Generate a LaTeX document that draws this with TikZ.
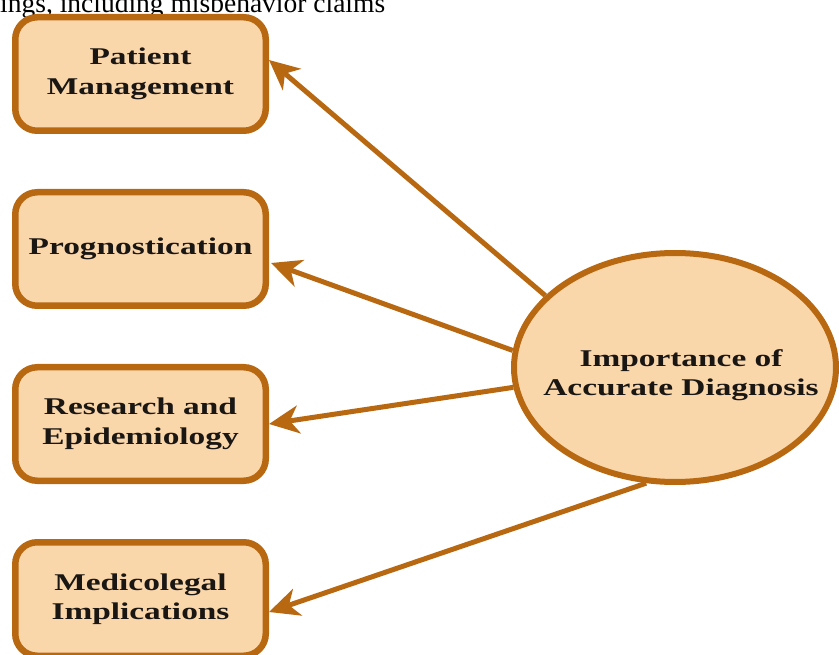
\documentclass[tikz,border=0pt]{standalone}
\usepackage{fontspec}
\setmainfont{Liberation Serif}
\newfontfamily\labelfont[FakeStretch=1.39]{Liberation Serif}
\usetikzlibrary{arrows.meta,shapes.geometric}
\definecolor{peach}{RGB}{250,215,170}
\definecolor{rust}{RGB}{185,104,18}
\definecolor{ink}{RGB}{25,22,20}
% centred two-line label that does not widen the ellipse around it,
% set a little right of and below the ellipse centre
\newcommand{\hubtext}[2]{\makebox[0pt]{\hspace*{12pt}\raisebox{-7.7pt}[\height][\depth]{\begin{tabular}{@{}c@{}}#1\\#2\end{tabular}}}}
\begin{document}
\begin{tikzpicture}[x=1pt,y=-1pt,
  topic/.style={draw=rust, fill=peach, line width=6.5pt, rounded corners=22pt,
    minimum width=250.5pt, minimum height=113.5pt, inner sep=0pt, align=center,
    text=ink, font=\labelfont\bfseries\fontsize{24}{29.5}\selectfont},
  hub/.style={ellipse, draw=rust, fill=peach, line width=6pt,
    minimum width=322pt, minimum height=229pt, inner sep=0pt,
    text=ink, font=\labelfont\bfseries\fontsize{24}{28.5}\selectfont},
  link/.style={draw=rust, line width=5pt,
    -{Stealth[length=30pt,width=28pt,inset=9pt]}}]
\useasboundingbox (0,0) rectangle (839,655);
\clip (0,0) rectangle (839,655);

% running text line cut off by the top edge
\node[anchor=base west, inner sep=0pt, font=\fontsize{27.5}{30}\selectfont]
  (caption) at (0,13) {ings, including misbehavior claims};

% the four outcome boxes
\node[topic] (mgmt) at (140.5,74)  {Patient\\Management};
\node[topic] (prog) at (140.5,249) {Prognostication};
\node[topic] (epid) at (140.5,424) {Research and\\Epidemiology};
\node[topic] (legal) at (140.5,599) {Medicolegal\\Implications};

% central idea
\node[hub] (core) at (675,367.5) {\hubtext{Importance of}{Accurate Diagnosis}};

% connectors
\draw[link] (core.151.5) -- ([yshift=14pt]mgmt.east);
\draw[link] (core.174.6) -- ([xshift=2pt,yshift=-14pt]prog.east);
\draw[link] (core.187.9) -- (epid.east);
\draw[link] (core.256.4) -- ([yshift=-13pt]legal.east);
\end{tikzpicture}
\end{document}
